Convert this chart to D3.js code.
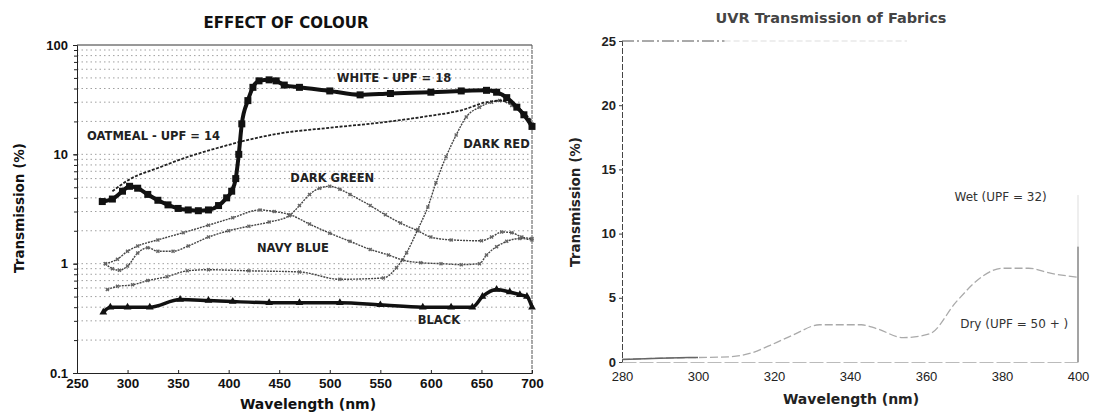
<!DOCTYPE html>
<html>
<head>
<meta charset="utf-8">
<script src="https://cdn.jsdelivr.net/npm/d3@7"></script>
<style>
  body { margin: 0; background: #fff; }
  svg { display: block; font-family: "DejaVu Sans", sans-serif; }
</style>
</head>
<body>
<svg id="chart" width="1096" height="413"></svg>
<script>
// ---- left panel: effect of colour (wavelength nm, transmission %)
var white = [[275,3.7],[285,3.9],[295,4.6],[302,5.1],[310,4.9],[320,4.3],[330,3.8],[340,3.45],[350,3.2],[360,3.1],[370,3.05],[380,3.1],[390,3.4],[398,4.0],[403,4.6],[407,6.0],[410,10],[413,19],[419,31],[424,41],[430,47],[440,48],[447,47],[455,43],[470,41],[500,38],[530,35],[560,36],[600,37],[630,38],[655,38.5],[665,37],[675,33],[685,27],[692,23],[700,18]];
var oatmeal = [[285,4.6],[302,5.9],[330,7.5],[360,9.5],[390,11.5],[411,13],[450,15.5],[500,17.5],[550,19.5],[592,22],[632,25.6],[655,30],[670,31],[680,29],[690,25],[700,20]];
var darkGreen = [[278,1.0],[285,0.9],[292,0.87],[300,0.95],[310,1.25],[320,1.4],[330,1.3],[345,1.3],[360,1.45],[380,1.75],[400,2.0],[420,2.2],[440,2.4],[460,2.75],[470,3.4],[480,4.3],[490,4.9],[500,5.1],[510,4.8],[520,4.3],[540,3.4],[555,2.8],[570,2.35],[587,2.0],[600,1.75],[620,1.65],[650,1.62],[660,1.75],[670,1.95],[680,1.92],[690,1.75],[700,1.7]];
var navyBlue = [[278,1.0],[290,1.1],[300,1.3],[310,1.45],[330,1.65],[355,1.92],[380,2.25],[404,2.63],[431,3.1],[445,3.0],[461,2.8],[480,2.3],[500,1.9],[520,1.6],[540,1.35],[558,1.2],[572,1.08],[590,1.02],[610,1.0],[630,0.98],[648,1.0],[655,1.2],[665,1.43],[675,1.6],[688,1.7],[700,1.65]];
var darkRed = [[280,0.58],[290,0.62],[305,0.64],[320,0.7],[339,0.76],[359,0.86],[380,0.88],[420,0.86],[470,0.84],[510,0.72],[553,0.74],[566,0.92],[576,1.26],[587,2.05],[597,3.3],[605,5.5],[615,9.5],[625,15],[635,22],[648,27],[660,30],[668,31],[680,28],[690,24],[700,19]];
var black = [[276,0.36],[283,0.4],[300,0.4],[322,0.4],[352,0.47],[380,0.46],[404,0.45],[440,0.44],[470,0.44],[510,0.44],[550,0.42],[592,0.4],[620,0.4],[641,0.4],[651,0.5],[665,0.58],[678,0.55],[688,0.52],[695,0.5],[700,0.4]];
var leftXTicks = [250,300,350,400,450,500,550,600,650,700];
var leftYTicks = [0.1,1,10,100];
var leftLabels = [
  {text: "WHITE - UPF = 18", nm: 507, t: 49},
  {text: "OATMEAL - UPF = 14", nm: 260, t: 14.5},
  {text: "DARK RED", nm: 632, t: 12.3},
  {text: "DARK GREEN", nm: 461, t: 6.0},
  {text: "NAVY BLUE", nm: 428, t: 1.37},
  {text: "BLACK", nm: 587, t: 0.30}
];

// ---- right panel: UVR transmission of fabrics
var dry = [[280,0.2],[290,0.3],[300,0.35],[308,0.4],[314,0.7],[319,1.3],[325,2.1],[332,2.9],[343,2.9],[347,2.6],[354,1.9],[361,2.2],[368,4.7],[375,6.7],[380,7.3],[387,7.3],[393,6.9],[400,6.6]];
var rightXTicks = [280,300,320,340,360,380,400];
var rightYTicks = [0,5,10,15,20,25];
var rightLabels = [
  {text: "Wet (UPF = 32)", nm: 367.5, t: 12.85},
  {text: "Dry (UPF = 50 + )", nm: 369, t: 2.9}
];

var svg = d3.select("#chart");

// ================= left panel
var xL = d3.scaleLinear().domain([250, 700]).range([77, 532]);
var yL = d3.scaleLog().domain([0.1, 100]).range([373, 45]);

var gL = svg.append("g");

// dotted horizontal grid at every log tick
var minor = yL.ticks().filter(d => d > 0.1 && d < 100);
gL.selectAll("line.grid").data(minor).enter()
  .append("line")
  .attr("x1", xL(250)).attr("x2", xL(700))
  .attr("y1", d => yL(d)).attr("y2", d => yL(d))
  .attr("stroke", "#888").attr("stroke-width", 0.8)
  .attr("stroke-dasharray", "1.5,3");

// frame
gL.append("line").attr("x1", xL(250)).attr("x2", xL(700)).attr("y1", yL(100)).attr("y2", yL(100))
  .attr("stroke", "#333").attr("stroke-width", 1);
gL.append("line").attr("x1", xL(700)).attr("x2", xL(700)).attr("y1", yL(100)).attr("y2", yL(0.1))
  .attr("stroke", "#555").attr("stroke-width", 1).attr("stroke-dasharray", "4,1");

// axes
var axL = gL.append("g").attr("transform", "translate(" + xL(250) + ",0)")
  .call(d3.axisLeft(yL).tickValues(leftYTicks).tickSize(4).tickFormat(d => d === 0.1 ? "0.1" : d));
var axLm = gL.append("g").attr("transform", "translate(" + xL(250) + ",0)")
  .call(d3.axisLeft(yL).tickValues(minor).tickSize(3).tickFormat(""));
axLm.select(".domain").remove();
var axB = gL.append("g").attr("transform", "translate(0," + yL(0.1) + ")")
  .call(d3.axisBottom(xL).tickValues(leftXTicks).tickSize(-3).tickPadding(5));
[axL, axLm, axB].forEach(function(a){
  a.selectAll("path,line").attr("stroke", "#222");
});
axL.selectAll("text").attr("font-size", 13).attr("font-weight", "bold").attr("fill", "#111").attr("dx", -2);
axB.selectAll("text").attr("font-size", 13.5).attr("font-weight", "bold").attr("fill", "#111");

// series
var lineL = d3.line().curve(d3.curveMonotoneX).x(d => xL(d[0])).y(d => yL(d[1]));

function crossSeries(data){
  gL.append("path").attr("d", lineL(data)).attr("fill", "none")
    .attr("stroke", "#444").attr("stroke-width", 1.4).attr("stroke-dasharray", "2,1");
  gL.append("g").selectAll("path").data(data).enter()
    .append("path")
    .attr("d", d3.symbol(d3.symbolCross, 10))
    .attr("transform", d => "translate(" + xL(d[0]) + "," + yL(d[1]) + ") rotate(45)")
    .attr("fill", "#666");
}
crossSeries(darkGreen);
crossSeries(navyBlue);
crossSeries(darkRed);

gL.append("path").attr("d", lineL(oatmeal)).attr("fill", "none")
  .attr("stroke", "#222").attr("stroke-width", 1.8).attr("stroke-dasharray", "3,1.5");

gL.append("path").attr("d", lineL(black)).attr("fill", "none")
  .attr("stroke", "#111").attr("stroke-width", 3.5);
gL.append("g").selectAll("path").data(black).enter()
  .append("path")
  .attr("d", d3.symbol(d3.symbolTriangle, 26))
  .attr("transform", d => "translate(" + xL(d[0]) + "," + yL(d[1]) + ")")
  .attr("fill", "#111");

gL.append("path").attr("d", lineL(white)).attr("fill", "none")
  .attr("stroke", "#111").attr("stroke-width", 4);
gL.append("g").selectAll("rect").data(white).enter()
  .append("rect")
  .attr("x", d => xL(d[0]) - 3.5).attr("y", d => yL(d[1]) - 3.5)
  .attr("width", 7).attr("height", 7)
  .attr("fill", "#111");

// labels
gL.selectAll("text.lab").data(leftLabels).enter()
  .append("text")
  .attr("x", d => xL(d.nm)).attr("y", d => yL(d.t))
  .attr("dominant-baseline", "middle")
  .attr("font-size", 11.5).attr("font-weight", "bold").attr("fill", "#222")
  .text(d => d.text);

gL.append("text").attr("x", 286).attr("y", 28).attr("text-anchor", "middle")
  .attr("font-size", 15).attr("font-weight", "bold").attr("fill", "#111")
  .text("EFFECT OF COLOUR");
gL.append("text").attr("x", 308).attr("y", 409).attr("text-anchor", "middle")
  .attr("font-size", 14).attr("font-weight", "bold").attr("fill", "#111")
  .text("Wavelength (nm)");
gL.append("text").attr("transform", "translate(24,208) rotate(-90)").attr("text-anchor", "middle")
  .attr("font-size", 13.5).attr("font-weight", "bold").attr("fill", "#111")
  .text("Transmission (%)");

// ================= right panel
var xR = d3.scaleLinear().domain([280, 400]).range([622, 1078]);
var yR = d3.scaleLinear().domain([0, 25]).range([362, 41]);

var gR = svg.append("g");

gR.append("line").attr("x1", xR(280)).attr("x2", xR(307)).attr("y1", yR(25)).attr("y2", yR(25))
  .attr("stroke", "#555").attr("stroke-width", 1).attr("stroke-dasharray", "12,3,2,3");
gR.append("line").attr("x1", xR(307)).attr("x2", xR(355)).attr("y1", yR(25)).attr("y2", yR(25))
  .attr("stroke", "#ddd").attr("stroke-width", 1).attr("stroke-dasharray", "6,3");
gR.append("line").attr("x1", xR(400)).attr("x2", xR(400)).attr("y1", yR(9)).attr("y2", yR(0))
  .attr("stroke", "#666").attr("stroke-width", 1.2);
gR.append("line").attr("x1", xR(400)).attr("x2", xR(400)).attr("y1", yR(13)).attr("y2", yR(9))
  .attr("stroke", "#ddd").attr("stroke-width", 1);

var axRL = gR.append("g").attr("transform", "translate(" + xR(280) + ",0)")
  .call(d3.axisLeft(yR).tickValues(rightYTicks).tickSize(3).tickPadding(3));
axRL.select(".domain").attr("stroke-dasharray", "6,2");
var axRB = gR.append("g").attr("transform", "translate(0," + yR(0) + ")")
  .call(d3.axisBottom(xR).tickValues(rightXTicks).tickSize(0).tickPadding(10));
axRB.select(".domain").attr("stroke", "#bbb").attr("stroke-dasharray", "14,3");
axRL.selectAll("path,line").attr("stroke", "#444");
axRL.selectAll("text").attr("font-size", 13).attr("font-weight", "bold").attr("fill", "#222");
axRB.selectAll("text").attr("font-size", 13).attr("fill", "#222");

var lineR = d3.line().curve(d3.curveMonotoneX).x(d => xR(d[0])).y(d => yR(d[1]));
gR.append("path").attr("d", lineR(dry)).attr("fill", "none")
  .attr("stroke", "#aaa").attr("stroke-width", 1.3).attr("stroke-dasharray", "8,3");
gR.append("path").attr("d", lineR(dry.slice(0, 3))).attr("fill", "none")
  .attr("stroke", "#666").attr("stroke-width", 1.5);

gR.selectAll("text.lab").data(rightLabels).enter()
  .append("text")
  .attr("x", d => xR(d.nm)).attr("y", d => yR(d.t))
  .attr("dominant-baseline", "middle")
  .attr("font-size", 12).attr("fill", "#333")
  .text(d => d.text);

gR.append("text").attr("x", 831).attr("y", 23).attr("text-anchor", "middle")
  .attr("font-size", 14.5).attr("font-weight", "bold").attr("fill", "#444")
  .text("UVR Transmission of Fabrics");
gR.append("text").attr("x", 851).attr("y", 404).attr("text-anchor", "middle")
  .attr("font-size", 14).attr("font-weight", "bold").attr("fill", "#222")
  .text("Wavelength (nm)");
gR.append("text").attr("transform", "translate(580,202) rotate(-90)").attr("text-anchor", "middle")
  .attr("font-size", 13.5).attr("font-weight", "bold").attr("fill", "#222")
  .text("Transmission (%)");
</script>
</body>
</html>
